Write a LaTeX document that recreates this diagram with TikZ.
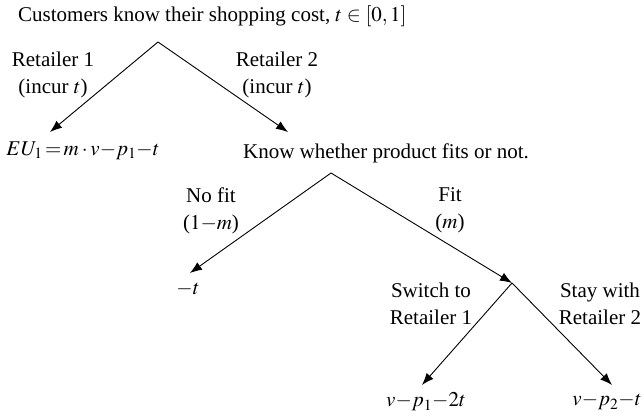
\documentclass[tikz,border=0pt]{standalone}
\usepackage{mathptmx}
\usepackage{fontspec}
\setmainfont{Liberation Serif}
\usetikzlibrary{arrows.meta}
\tikzset{
  lbl/.style={inner sep=0pt, align=center, font=\fontsize{21}{27}\selectfont},
  arr/.style={line width=0.9pt, -{Latex[length=12pt,width=9pt]}}
}
\begin{document}
\begin{tikzpicture}[x=1pt,y=-1pt]
\useasboundingbox (0,0) rectangle (643,414);
\node[lbl, anchor=west] (title) at (18,16) {Customers know their shopping cost, $t\in[0,1]$};
\coordinate (a1) at (158,42);
\coordinate (t1L) at (50,132);
\coordinate (t1R) at (288,132);
\coordinate (a2) at (331,173);
\coordinate (t2L) at (190,273);
\coordinate (a3) at (512,283);
\coordinate (t3L) at (422,385);
\coordinate (t3R) at (612,385);
\draw[arr] (a1) -- (t1L);
\draw[arr] (a1) -- (t1R);
\draw[arr] (a2) -- (t2L);
\draw[arr] (a2) -- (a3);
\draw[arr] (a3) -- (t3L);
\draw[arr] (a3) -- (t3R);
\node[lbl] (r1) at (53,75) {Retailer 1\\(incur $t$)};
\node[lbl] (r2) at (277,75) {Retailer 2\\(incur $t$)};
\node[lbl] (eu) at (83,151) {$EU_1\,{=}\,m\cdot v{-}p_1{-}t$};
\node[lbl] (know) at (386,153) {Know whether product fits or not.};
\node[lbl] (nofit) at (211,211) {No fit\\($1{-}m$)};
\node[lbl] (fit) at (450,210) {Fit\\($m$)};
\node[lbl] (mt) at (188,289) {$-t$};
\node[lbl] (sw) at (431,304) {Switch to\\Retailer 1};
\node[lbl] (st) at (600,304) {Stay with\\Retailer 2};
\node[lbl] (o1) at (426,402) {$v{-}p_1{-}2t$};
\node[lbl] (o2) at (607,402) {$v{-}p_2{-}t$};
\end{tikzpicture}
\end{document}
